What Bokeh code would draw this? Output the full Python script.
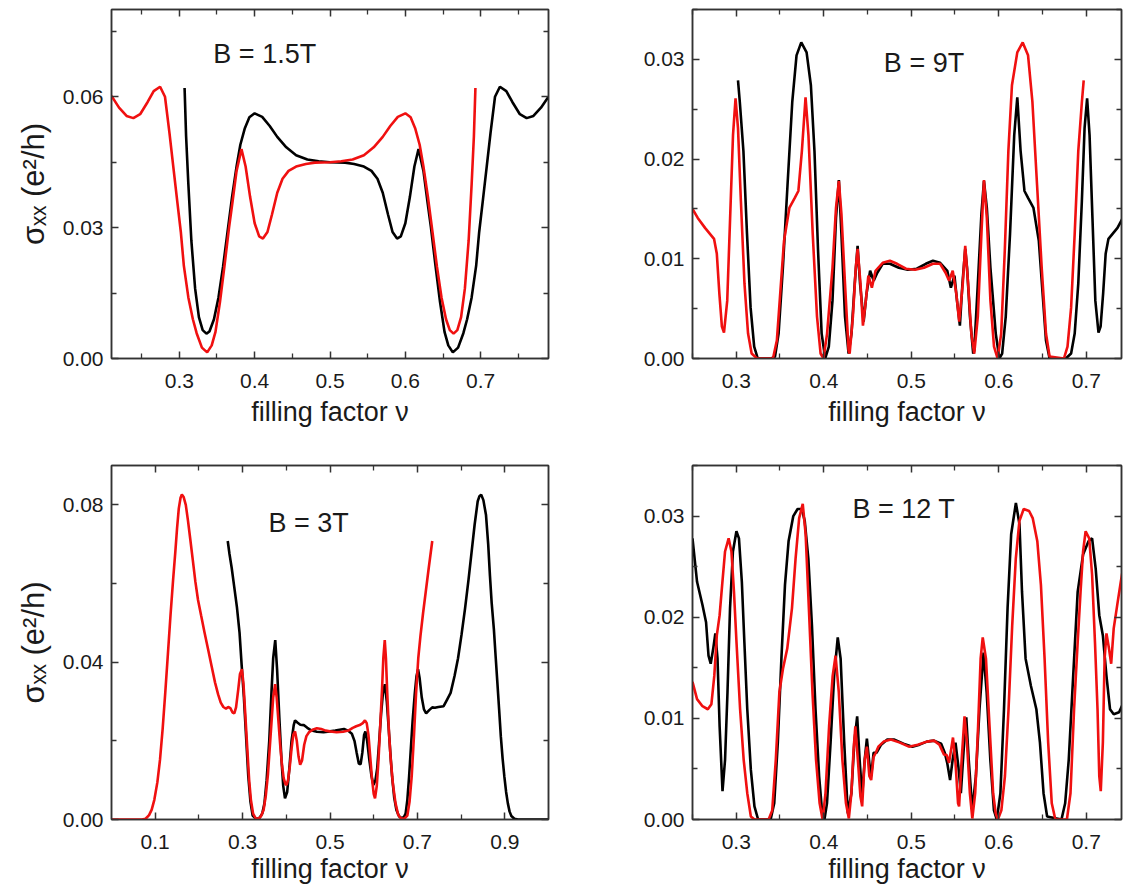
from bokeh.plotting import figure
from bokeh.models import (FixedTicker, LinearAxis, Label, NumeralTickFormatter,
                          Range1d, CustomJSTickFormatter)
from bokeh.layouts import column, row
from bokeh.embed import file_html
from bokeh.resources import INLINE

# ---------------- data (filling factor nu, sigma_xx in e^2/h) ----------------
P1_BLACK = [(0.307,0.0620),(0.309,0.0510),(0.312,0.0400),(0.316,0.0270),(0.321,0.0160),(0.326,0.0095),(0.331,0.0065),(0.336,0.0057),(0.340,0.0062),(0.346,0.0090),(0.352,0.0140),(0.358,0.0210),(0.364,0.0290),(0.370,0.0370),(0.376,0.0440),(0.381,0.0490),(0.387,0.0528),(0.393,0.0553),(0.400,0.0562),(0.410,0.0554),(0.420,0.0533),(0.430,0.0508),(0.442,0.0484),(0.455,0.0466),(0.470,0.0456),(0.485,0.0452),(0.500,0.0450),(0.520,0.0449),(0.532,0.0446),(0.545,0.0440),(0.555,0.0430),(0.563,0.0412),(0.570,0.0380),(0.577,0.0330),(0.583,0.0290),(0.589,0.0275),(0.594,0.0280),(0.600,0.0310),(0.606,0.0370),(0.612,0.0440),(0.6175,0.0480),(0.624,0.0430),(0.629,0.0364),(0.634,0.0300),(0.640,0.0213),(0.646,0.0130),(0.652,0.0061),(0.657,0.0030),(0.663,0.0014),(0.670,0.0025),(0.677,0.0058),(0.682,0.0090),(0.688,0.0140),(0.694,0.0213),(0.698,0.0290),(0.703,0.0364),(0.708,0.0440),(0.713,0.0516),(0.719,0.0600),(0.7255,0.0623),(0.734,0.0613),(0.742,0.0588),(0.752,0.0560),(0.761,0.0551),(0.770,0.0556),(0.780,0.0575),(0.790,0.0600)]
P1_RED = [(0.210,0.0602),(0.220,0.0575),(0.230,0.0556),(0.239,0.0551),(0.248,0.0560),(0.258,0.0588),(0.266,0.0613),(0.2745,0.0623),(0.281,0.0600),(0.287,0.0516),(0.292,0.0440),(0.297,0.0364),(0.302,0.0290),(0.306,0.0213),(0.312,0.0140),(0.318,0.0090),(0.323,0.0058),(0.330,0.0025),(0.337,0.0014),(0.343,0.0030),(0.348,0.0061),(0.354,0.0130),(0.360,0.0213),(0.366,0.0300),(0.371,0.0364),(0.376,0.0430),(0.3825,0.0480),(0.388,0.0440),(0.394,0.0370),(0.400,0.0310),(0.406,0.0280),(0.411,0.0275),(0.417,0.0290),(0.423,0.0330),(0.430,0.0380),(0.437,0.0412),(0.445,0.0430),(0.455,0.0440),(0.468,0.0446),(0.480,0.0449),(0.500,0.0450),(0.515,0.0452),(0.530,0.0456),(0.545,0.0466),(0.558,0.0484),(0.570,0.0508),(0.580,0.0533),(0.590,0.0554),(0.600,0.0562),(0.607,0.0553),(0.613,0.0528),(0.619,0.0490),(0.624,0.0440),(0.630,0.0370),(0.636,0.0290),(0.642,0.0210),(0.648,0.0140),(0.654,0.0090),(0.659,0.0065),(0.664,0.0057),(0.669,0.0065),(0.674,0.0095),(0.679,0.0160),(0.684,0.0270),(0.688,0.0400),(0.691,0.0510),(0.693,0.0620)]

P2_BLACK = [(0.3020,0.0279),(0.3041,0.0257),(0.3082,0.0208),(0.3123,0.0125),(0.3164,0.0051),(0.3205,0.0012),(0.3246,0.0),(0.3402,0.0),(0.3443,0.0002),(0.3484,0.0025),(0.3533,0.0091),(0.3586,0.0174),(0.3640,0.0257),(0.3689,0.0304),(0.3743,0.0317),(0.3804,0.0307),(0.3853,0.0274),(0.3894,0.0208),(0.3935,0.0108),(0.3976,0.0025),(0.4017,0.0),(0.4058,0.0012),(0.4100,0.0058),(0.4140,0.0141),(0.4173,0.0179),(0.4202,0.0125),(0.4243,0.0042),(0.4284,0.0005),(0.4317,0.0025),(0.4354,0.0075),(0.4387,0.0113),(0.4415,0.0075),(0.4456,0.0037),(0.4489,0.0065),(0.4530,0.0088),(0.4571,0.0078),(0.4612,0.0086),(0.4674,0.0095),(0.4756,0.0095),(0.4858,0.0091),(0.4960,0.0089),(0.5063,0.0090),(0.5166,0.0095),(0.5248,0.0098),(0.5330,0.0096),(0.5412,0.0088),(0.5453,0.0071),(0.5494,0.0083),(0.5523,0.0058),(0.5556,0.0033),(0.5585,0.0075),(0.5617,0.0110),(0.5638,0.0091),(0.5671,0.0042),(0.5708,0.0005),(0.5720,0.0008),(0.5761,0.0075),(0.5802,0.0145),(0.5831,0.0178),(0.5864,0.0151),(0.5905,0.0091),(0.5966,0.0025),(0.6007,0.0),(0.6039,0.0005),(0.6080,0.0042),(0.6129,0.0125),(0.6177,0.0224),(0.6212,0.0262),(0.6250,0.0208),(0.6294,0.0168),(0.6335,0.0161),(0.6397,0.0151),(0.6458,0.0118),(0.6499,0.0068),(0.6540,0.0018),(0.6581,0.0),(0.6766,0.0),(0.6827,0.0005),(0.6868,0.0025),(0.6909,0.0075),(0.6950,0.0158),(0.6981,0.0231),(0.7010,0.0261),(0.7038,0.0224),(0.7071,0.0141),(0.7104,0.0058),(0.7140,0.0026),(0.7164,0.0032),(0.7193,0.0065),(0.7222,0.0105),(0.7254,0.0120),(0.7357,0.0131),(0.7418,0.0141),(0.7450,0.0150)]
P2_RED = [(0.2500,0.0150),(0.2560,0.0141),(0.2643,0.0131),(0.2746,0.0120),(0.2778,0.0105),(0.2807,0.0065),(0.2836,0.0032),(0.2860,0.0026),(0.2897,0.0058),(0.2930,0.0141),(0.2963,0.0224),(0.2992,0.0261),(0.3020,0.0231),(0.3053,0.0158),(0.3094,0.0075),(0.3135,0.0025),(0.3176,0.0005),(0.3238,0.0),(0.3420,0.0),(0.3464,0.0018),(0.3505,0.0068),(0.3546,0.0118),(0.3607,0.0151),(0.3669,0.0161),(0.3710,0.0168),(0.3750,0.0208),(0.3792,0.0262),(0.3825,0.0224),(0.3874,0.0125),(0.3923,0.0042),(0.3964,0.0005),(0.3997,0.0),(0.4038,0.0025),(0.4100,0.0091),(0.4140,0.0151),(0.4173,0.0178),(0.4202,0.0145),(0.4243,0.0075),(0.4284,0.0008),(0.4296,0.0005),(0.4333,0.0042),(0.4366,0.0091),(0.4387,0.0110),(0.4420,0.0075),(0.4448,0.0033),(0.4481,0.0058),(0.4510,0.0083),(0.4550,0.0071),(0.4592,0.0088),(0.4674,0.0096),(0.4756,0.0098),(0.4838,0.0095),(0.4940,0.0090),(0.5043,0.0089),(0.5146,0.0091),(0.5248,0.0095),(0.5330,0.0095),(0.5392,0.0086),(0.5433,0.0078),(0.5474,0.0088),(0.5515,0.0065),(0.5548,0.0037),(0.5589,0.0075),(0.5617,0.0113),(0.5650,0.0075),(0.5687,0.0025),(0.5720,0.0005),(0.5761,0.0042),(0.5802,0.0125),(0.5831,0.0179),(0.5864,0.0141),(0.5905,0.0058),(0.5946,0.0012),(0.5987,0.0),(0.6028,0.0025),(0.6069,0.0108),(0.6110,0.0208),(0.6151,0.0274),(0.6212,0.0307),(0.6274,0.0317),(0.6335,0.0304),(0.6385,0.0257),(0.6438,0.0174),(0.6491,0.0091),(0.6540,0.0025),(0.6581,0.0002),(0.6745,0.0),(0.6786,0.0012),(0.6827,0.0051),(0.6868,0.0125),(0.6909,0.0208),(0.6950,0.0257),(0.6971,0.0279)]

P3_BLACK = [(0.266,0.0708),(0.270,0.0675),(0.275,0.0640),(0.281,0.0590),(0.287,0.0540),(0.293,0.0475),(0.298,0.0390),(0.303,0.0310),(0.308,0.0210),(0.313,0.0110),(0.318,0.0045),(0.323,0.0010),(0.330,0.0002),(0.338,0.0003),(0.345,0.0015),(0.350,0.0041),(0.355,0.0100),(0.361,0.0200),(0.366,0.0322),(0.370,0.0410),(0.3747,0.0456),(0.379,0.0380),(0.384,0.0260),(0.389,0.0152),(0.393,0.0085),(0.397,0.0054),(0.402,0.0070),(0.407,0.0130),(0.412,0.0200),(0.417,0.0240),(0.420,0.0252),(0.426,0.0246),(0.432,0.0241),(0.440,0.0240),(0.448,0.0233),(0.458,0.0226),(0.470,0.0223),(0.485,0.0222),(0.500,0.0224),(0.512,0.0226),(0.522,0.0228),(0.532,0.0230),(0.541,0.0226),(0.550,0.0218),(0.556,0.0200),(0.561,0.0170),(0.566,0.0142),(0.570,0.0140),(0.574,0.0170),(0.578,0.0215),(0.581,0.0224),(0.585,0.0200),(0.590,0.0152),(0.595,0.0110),(0.5993,0.0088),(0.604,0.0100),(0.608,0.0130),(0.612,0.0190),(0.617,0.0270),(0.621,0.0320),(0.6255,0.0344),(0.630,0.0300),(0.634,0.0237),(0.638,0.0170),(0.642,0.0110),(0.647,0.0055),(0.652,0.0024),(0.658,0.0008),(0.665,0.0003),(0.670,0.0008),(0.673,0.0015),(0.677,0.0050),(0.681,0.0109),(0.685,0.0180),(0.689,0.0250),(0.694,0.0320),(0.698,0.0365),(0.7015,0.0382),(0.705,0.0360),(0.710,0.0310),(0.715,0.0280),(0.720,0.0270),(0.727,0.0278),(0.734,0.0285),(0.740,0.0284),(0.748,0.0286),(0.760,0.0288),(0.768,0.0305),(0.776,0.0322),(0.785,0.0365),(0.793,0.0410),(0.801,0.0470),(0.809,0.0536),(0.817,0.0610),(0.824,0.0680),(0.831,0.0750),(0.838,0.0809),(0.842,0.0822),(0.846,0.0826),(0.851,0.0812),(0.857,0.0774),(0.862,0.0700),(0.866,0.0620),(0.870,0.0550),(0.875,0.0484),(0.879,0.0415),(0.883,0.0348),(0.887,0.0280),(0.891,0.0210),(0.895,0.0155),(0.899,0.0109),(0.903,0.0070),(0.907,0.0041),(0.911,0.0020),(0.915,0.0009),(0.922,0.0002),(0.930,0.0),(1.000,0.0)]
P3_RED = [(0.000,0.0),(0.070,0.0),(0.078,0.0002),(0.086,0.0011),(0.092,0.0025),(0.098,0.0050),(0.105,0.0095),(0.111,0.0152),(0.117,0.0230),(0.123,0.0322),(0.129,0.0420),(0.135,0.0519),(0.141,0.0610),(0.146,0.0680),(0.150,0.0740),(0.154,0.0791),(0.158,0.0818),(0.161,0.0826),(0.165,0.0820),(0.170,0.0800),(0.175,0.0760),(0.180,0.0715),(0.186,0.0660),(0.192,0.0604),(0.198,0.0558),(0.205,0.0519),(0.213,0.0475),(0.221,0.0433),(0.229,0.0390),(0.237,0.0348),(0.244,0.0318),(0.250,0.0297),(0.256,0.0286),(0.262,0.0282),(0.267,0.0286),(0.272,0.0283),(0.277,0.0272),(0.281,0.0270),(0.285,0.0285),(0.290,0.0330),(0.294,0.0370),(0.2985,0.0382),(0.302,0.0345),(0.306,0.0270),(0.311,0.0175),(0.315,0.0100),(0.319,0.0050),(0.324,0.0015),(0.330,0.0003),(0.336,0.0002),(0.342,0.0008),(0.348,0.0024),(0.353,0.0060),(0.358,0.0115),(0.362,0.0180),(0.366,0.0245),(0.370,0.0310),(0.3745,0.0344),(0.378,0.0310),(0.382,0.0250),(0.386,0.0190),(0.390,0.0140),(0.394,0.0105),(0.398,0.0090),(0.4007,0.0088),(0.404,0.0100),(0.408,0.0135),(0.412,0.0180),(0.416,0.0215),(0.420,0.0224),(0.424,0.0200),(0.428,0.0160),(0.4317,0.0139),(0.436,0.0150),(0.441,0.0190),(0.446,0.0212),(0.452,0.0222),(0.460,0.0228),(0.470,0.0232),(0.480,0.0230),(0.490,0.0226),(0.500,0.0224),(0.515,0.0222),(0.530,0.0223),(0.542,0.0226),(0.552,0.0233),(0.560,0.0237),(0.568,0.0240),(0.575,0.0245),(0.580,0.0252),(0.584,0.0245),(0.588,0.0215),(0.592,0.0160),(0.596,0.0105),(0.600,0.0065),(0.603,0.0054),(0.607,0.0085),(0.611,0.0152),(0.615,0.0240),(0.619,0.0330),(0.622,0.0410),(0.6253,0.0456),(0.628,0.0410),(0.631,0.0322),(0.635,0.0220),(0.639,0.0152),(0.644,0.0090),(0.650,0.0041),(0.656,0.0012),(0.662,0.0003),(0.670,0.0002),(0.677,0.0010),(0.682,0.0045),(0.687,0.0110),(0.692,0.0210),(0.697,0.0322),(0.702,0.0410),(0.707,0.0467),(0.713,0.0525),(0.719,0.0578),(0.726,0.0640),(0.734,0.0708)]

P4_BLACK = [(0.2500,0.0278),(0.2552,0.0235),(0.2614,0.0212),(0.2655,0.0195),(0.2683,0.0162),(0.2708,0.0154),(0.2737,0.0169),(0.2761,0.0184),(0.2786,0.0159),(0.2810,0.0092),(0.2843,0.0028),(0.2872,0.0059),(0.2900,0.0126),(0.2929,0.0209),(0.2962,0.0265),(0.3002,0.0285),(0.3031,0.0278),(0.3064,0.0235),(0.3093,0.0175),(0.3126,0.0109),(0.3167,0.0049),(0.3208,0.0013),(0.3250,0.0),(0.3393,0.0),(0.3434,0.0016),(0.3475,0.0076),(0.3516,0.0159),(0.3557,0.0232),(0.3598,0.0275),(0.3652,0.0300),(0.3701,0.0307),(0.3750,0.0307),(0.3783,0.0295),(0.3824,0.0258),(0.3865,0.0192),(0.3906,0.0109),(0.3947,0.0043),(0.3980,0.0009),(0.4008,0.0),(0.4037,0.0016),(0.4078,0.0076),(0.4119,0.0142),(0.4160,0.0180),(0.4193,0.0159),(0.4234,0.0076),(0.4275,0.0006),(0.4316,0.0026),(0.4349,0.0076),(0.4382,0.0102),(0.4410,0.0059),(0.4439,0.0023),(0.4468,0.0059),(0.4493,0.0080),(0.4521,0.0056),(0.4542,0.0043),(0.4570,0.0066),(0.4603,0.0066),(0.4656,0.0074),(0.4726,0.0079),(0.4808,0.0079),(0.4911,0.0075),(0.5013,0.0072),(0.5095,0.0074),(0.5178,0.0077),(0.5260,0.0078),(0.5342,0.0075),(0.5383,0.0066),(0.5411,0.0056),(0.5444,0.0039),(0.5473,0.0059),(0.5506,0.0076),(0.5539,0.0052),(0.5567,0.0026),(0.5600,0.0070),(0.5629,0.0101),(0.5657,0.0059),(0.5698,0.0009),(0.5739,0.0043),(0.5780,0.0109),(0.5826,0.0165),(0.5862,0.0126),(0.5904,0.0059),(0.5945,0.0009),(0.5978,0.0),(0.6019,0.0026),(0.6060,0.0109),(0.6101,0.0209),(0.6142,0.0282),(0.6196,0.0313),(0.6237,0.0292),(0.6266,0.0225),(0.6307,0.0159),(0.6368,0.0132),(0.6430,0.0109),(0.6471,0.0076),(0.6512,0.0026),(0.6553,0.0003),(0.6717,0.0),(0.6759,0.0016),(0.6800,0.0059),(0.6841,0.0126),(0.6902,0.0225),(0.6964,0.0262),(0.7026,0.0275),(0.7067,0.0278),(0.7108,0.0248),(0.7149,0.0202),(0.7190,0.0182),(0.7231,0.0142),(0.7272,0.0109),(0.7314,0.0104),(0.7375,0.0106),(0.7428,0.0116)]
P4_RED = [(0.2500,0.0136),(0.2552,0.0119),(0.2614,0.0112),(0.2675,0.0109),(0.2716,0.0114),(0.2749,0.0142),(0.2778,0.0182),(0.2810,0.0202),(0.2839,0.0232),(0.2872,0.0265),(0.2913,0.0278),(0.2945,0.0265),(0.2974,0.0225),(0.3003,0.0175),(0.3044,0.0109),(0.3085,0.0059),(0.3126,0.0026),(0.3167,0.0003),(0.3208,0.0),(0.3370,0.0),(0.3411,0.0009),(0.3452,0.0059),(0.3493,0.0126),(0.3534,0.0149),(0.3583,0.0169),(0.3637,0.0209),(0.3678,0.0258),(0.3719,0.0298),(0.3760,0.0312),(0.3793,0.0282),(0.3830,0.0209),(0.3871,0.0126),(0.3912,0.0059),(0.3953,0.0016),(0.3987,0.0),(0.4020,0.0026),(0.4061,0.0092),(0.4102,0.0142),(0.4135,0.0162),(0.4172,0.0126),(0.4213,0.0059),(0.4254,0.0016),(0.4287,0.0001),(0.4316,0.0026),(0.4341,0.0069),(0.4361,0.0092),(0.4390,0.0059),(0.4419,0.0023),(0.4439,0.0013),(0.4468,0.0059),(0.4493,0.0072),(0.4521,0.0043),(0.4542,0.0039),(0.4570,0.0062),(0.4595,0.0066),(0.4624,0.0072),(0.4685,0.0077),(0.4767,0.0079),(0.4870,0.0076),(0.4973,0.0072),(0.5075,0.0074),(0.5178,0.0077),(0.5260,0.0078),(0.5322,0.0074),(0.5375,0.0064),(0.5404,0.0064),(0.5432,0.0056),(0.5477,0.0081),(0.5506,0.0056),(0.5535,0.0016),(0.5547,0.0013),(0.5576,0.0059),(0.5609,0.0102),(0.5637,0.0076),(0.5670,0.0026),(0.5698,0.0001),(0.5731,0.0026),(0.5764,0.0092),(0.5793,0.0159),(0.5817,0.0180),(0.5854,0.0159),(0.5895,0.0092),(0.5936,0.0026),(0.5965,0.0006),(0.5990,0.0),(0.6030,0.0009),(0.6071,0.0043),(0.6112,0.0109),(0.6154,0.0192),(0.6195,0.0258),(0.6236,0.0295),(0.6285,0.0307),(0.6347,0.0305),(0.6388,0.0298),(0.6441,0.0275),(0.6482,0.0232),(0.6524,0.0159),(0.6565,0.0076),(0.6606,0.0016),(0.6647,0.0),(0.6779,0.0),(0.6820,0.0026),(0.6861,0.0109),(0.6902,0.0175),(0.6935,0.0225),(0.6964,0.0265),(0.6993,0.0285),(0.7034,0.0278),(0.7067,0.0242),(0.7100,0.0175),(0.7129,0.0109),(0.7149,0.0043),(0.7166,0.0028),(0.7190,0.0076),(0.7210,0.0159),(0.7231,0.0184),(0.7260,0.0169),(0.7285,0.0154),(0.7314,0.0189),(0.7354,0.0212),(0.7395,0.0235),(0.7428,0.0252)]

TITLES = ["B = 1.5T", "B = 9T", "B = 3T", "B = 12 T"]
TITLE_POS = [(0.4134, 0.0699), (0.5146, 0.0296), (0.451, 0.0753), (0.4916, 0.0307)]

X_TICKS_A = [0.3, 0.4, 0.5, 0.6, 0.7]
X_MINOR_A = [0.25, 0.35, 0.45, 0.55, 0.65, 0.75]
X_TICKS_B = [0.1, 0.3, 0.5, 0.7, 0.9]
X_MINOR_B = [0.2, 0.4, 0.6, 0.8]
Y_TICKS_1 = [0.0, 0.03, 0.06]
Y_MINOR_1 = [0.015, 0.045, 0.075]
Y_TICKS_3 = [0.0, 0.04, 0.08]
Y_MINOR_3 = [0.02, 0.06]
Y_TICKS_24 = [0.0, 0.01, 0.02, 0.03]
Y_MINOR_24 = [0.005, 0.015, 0.025, 0.035]

X_LABEL = "filling factor \u03bd"
Y_LABEL = "\u03c3\u2093\u2093 (e\u00b2/h)"

FONT = "Liberation Sans"
AX = "#333333"
TXT = "#1a1a1a"
RED = "#f01010"
BLACK = "#000000"


def style_axis(ax):
    ax.axis_line_color = AX
    ax.axis_line_width = 1.5
    ax.major_tick_line_color = AX
    ax.major_tick_line_width = 1.5
    ax.minor_tick_line_color = AX
    ax.minor_tick_line_width = 1.3
    ax.major_tick_in = 7
    ax.major_tick_out = 0
    ax.minor_tick_in = 5
    ax.minor_tick_out = 0
    ax.major_label_text_font = FONT
    ax.major_label_text_font_size = "21px"
    ax.major_label_text_color = TXT
    ax.axis_label_text_font = FONT
    ax.axis_label_text_font_size = "27px"
    ax.axis_label_text_font_style = "normal"
    ax.axis_label_text_color = TXT


def panel(width, height, xr, yr, borders, xt, xm, yt, ym, xfmt, yfmt,
          ylabel, title, tpos, black, red, x_std, xl_std):
    bl, br, bt, bb = borders
    p = figure(width=width, height=height,
               x_range=Range1d(*xr), y_range=Range1d(*yr),
               output_backend="svg", toolbar_location=None,
               min_border_left=bl, min_border_right=br,
               min_border_top=bt, min_border_bottom=bb)
    p.xgrid.visible = False
    p.ygrid.visible = False
    p.outline_line_color = AX
    p.outline_line_width = 1.5
    p.background_fill_color = "white"
    p.border_fill_color = "white"

    p.xaxis.ticker = FixedTicker(ticks=xt, minor_ticks=xm)
    p.yaxis.ticker = FixedTicker(ticks=yt, minor_ticks=ym)
    p.xaxis.formatter = NumeralTickFormatter(format=xfmt)
    p.yaxis.formatter = NumeralTickFormatter(format=yfmt)
    for ax in (p.xaxis[0], p.yaxis[0]):
        style_axis(ax)
    p.xaxis.axis_label = X_LABEL
    p.xaxis.major_label_standoff = x_std
    p.xaxis.axis_label_standoff = xl_std
    p.yaxis.major_label_standoff = 8
    if ylabel:
        p.yaxis.axis_label = ylabel
        p.yaxis.axis_label_text_font_size = "31px"
        p.yaxis.axis_label_standoff = 9

    for loc, t, m in (("above", xt, xm), ("right", yt, ym)):
        ax = LinearAxis(ticker=FixedTicker(ticks=t, minor_ticks=m),
                        formatter=CustomJSTickFormatter(code="return ''"))
        style_axis(ax)
        ax.major_label_text_font_size = "0px"
        ax.major_label_standoff = 0
        p.add_layout(ax, loc)

    bx, by = zip(*black)
    rx, ry = zip(*red)
    p.line(list(bx), list(by), line_color=BLACK, line_width=2.6)
    p.line(list(rx), list(ry), line_color=RED, line_width=2.6)

    p.add_layout(Label(x=tpos[0], y=tpos[1], text=title, text_font=FONT,
                       text_font_size="27px", text_color=TXT,
                       text_align="center", text_baseline="middle"))
    return p


p1 = panel(560, 440, (0.21, 0.79), (0.0, 0.08), (111, 12, 9, 80),
           X_TICKS_A, X_MINOR_A, Y_TICKS_1, Y_MINOR_1, "0.0", "0.00",
           Y_LABEL, TITLES[0], TITLE_POS[0], P1_BLACK, P1_RED, 15, 6)
p2 = panel(563, 440, (0.25, 0.7403), (0.0, 0.035), (132, 2, 6, 82),
           X_TICKS_A, X_MINOR_A, Y_TICKS_24, Y_MINOR_24, "0.0", "0.00",
           None, TITLES[1], TITLE_POS[1], P2_BLACK, P2_RED, 15, 6)
p3 = panel(560, 452, (0.0, 1.0), (0.0, 0.09), (111, 12, 24, 73),
           X_TICKS_B, X_MINOR_B, Y_TICKS_3, Y_MINOR_3, "0.0", "0.00",
           Y_LABEL, TITLES[2], TITLE_POS[2], P3_BLACK, P3_RED, 15, 2)
p4 = panel(563, 452, (0.25, 0.7403), (0.0, 0.035), (132, 2, 25, 73),
           X_TICKS_A, X_MINOR_A, Y_TICKS_24, Y_MINOR_24, "0.0", "0.00",
           None, TITLES[3], TITLE_POS[3], P4_BLACK, P4_RED, 15, 2)

layout = column(row(p1, p2), row(p3, p4))
open("out.html", "w").write(file_html(layout, INLINE))
